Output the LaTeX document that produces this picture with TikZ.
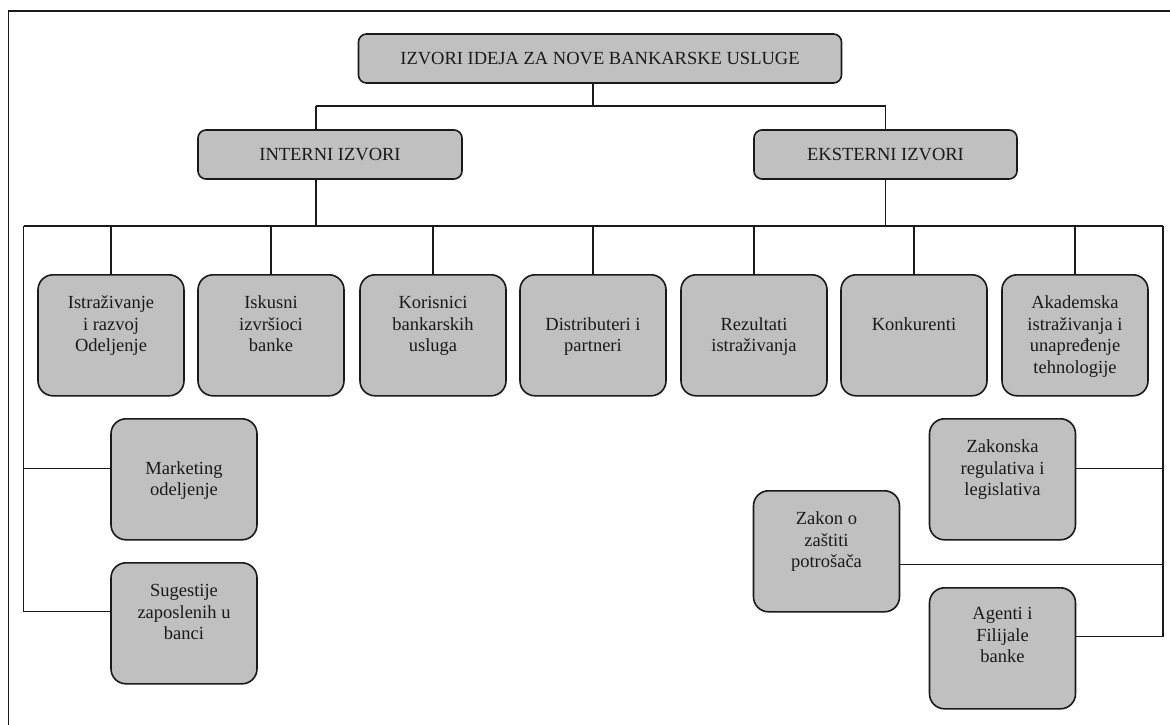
\documentclass[tikz,border=0pt]{standalone}
\usepackage{fontspec}
\setmainfont{Liberation Serif}
\definecolor{boxgray}{HTML}{C0C0C0}
\definecolor{ink}{HTML}{1A1A1A}
\tikzset{
  conn/.style={line width=1.4pt, draw=ink},
  headbox/.style={draw=ink, fill=boxgray, line width=1.6pt, rounded corners=8pt, inner sep=0pt,
    font=\fontsize{18.5}{21.5}\selectfont, text=ink},
  leafbox/.style={draw=ink, fill=boxgray, line width=1.6pt, rounded corners=15pt, inner sep=0pt,
    anchor=north, font=\fontsize{18.5}{21.5}\selectfont, text=ink},
}
\newcommand\leaftext[2]{\parbox[c][121pt][t]{146pt}{\centering\vspace*{#1}\strut #2}}
\begin{document}
\begin{tikzpicture}[x=1pt,y=-1pt]
\useasboundingbox (0,0) rectangle (1170,724);
\clip (0,0) rectangle (1170,724);
\fill[white] (0,0) rectangle (1170,724);
% outer frame
\draw[line width=1.8pt, ink] (8.4,740) |- (1190,11);
% header nodes
\node[headbox, minimum width=483pt, minimum height=49pt] (top) at (600,58.5) {IZVORI IDEJA ZA NOVE BANKARSKE USLUGE};
\node[headbox, minimum width=264pt, minimum height=49pt] (intr) at (330,154.5) {INTERNI IZVORI};
\node[headbox, minimum width=263pt, minimum height=49pt] (ext) at (885.5,154.5) {EKSTERNI IZVORI};
% row of leaves
\node[leafbox] (b1) at (111,274) {\leaftext{19pt}{Istraživanje\\ i razvoj\\ Odeljenje}};
\node[leafbox] (b2) at (271,274) {\leaftext{19pt}{Iskusni\\ izvršioci\\ banke}};
\node[leafbox] (b3) at (433,274) {\leaftext{19pt}{Korisnici\\ bankarskih\\ usluga}};
\node[leafbox] (b4) at (593,274) {\leaftext{40.5pt}{Distributeri i\\ partneri}};
\node[leafbox] (b5) at (754,274) {\leaftext{40.5pt}{Rezultati\\ istraživanja}};
\node[leafbox] (b6) at (914,274) {\leaftext{40.5pt}{Konkurenti}};
\node[leafbox] (b7) at (1075,274) {\leaftext{19pt}{Akademska\\ istraživanja i\\ unapređenje\\ tehnologije}};
% lower leaves
\node[leafbox] (mkt) at (184,418) {\leaftext{40.5pt}{Marketing\\ odeljenje}};
\node[leafbox] (sug) at (184,562) {\leaftext{19pt}{Sugestije\\ zaposlenih u\\ banci}};
\node[leafbox] (zak) at (1002.5,418) {\leaftext{19pt}{Zakonska\\ regulativa i\\ legislativa}};
\node[leafbox] (zoz) at (826.5,490) {\leaftext{19pt}{Zakon o\\ zaštiti\\ potrošača}};
\node[leafbox] (agt) at (1002.5,587) {\leaftext{17pt}{Agenti i\\ Filijale\\ banke}};
% connectors
\coordinate (splitL) at (316,106);
\coordinate (splitR) at (885.5,106);
\coordinate (busL) at (23.7,226);
\coordinate (busR) at (1163,226);
\draw[conn] ([xshift=-7pt]top.south) -- ([xshift=-7pt]top.south |- splitL);
\draw[conn] (splitL) -- (splitR);
\draw[conn] (splitL) -- ([xshift=-14pt]intr.north);
\draw[conn] (splitR) -- (ext.north);
\draw[conn] ([xshift=-14pt]intr.south) -- ([xshift=-14pt]intr.south |- busL);
\draw[conn] (ext.south) -- (ext.south |- busL);
\draw[conn] (busL) -- (busR);
\foreach \b in {b1,b2,b3,b4,b5,b6,b7} \draw[conn] (\b.north) -- (\b.north |- busL);
\draw[conn] (busL) |- ([yshift=12pt]sug.west);
\draw[conn] ([yshift=11pt]mkt.west) -- ([yshift=11pt]mkt.west -| busL);
\draw[conn] (busR) |- ([yshift=12pt]agt.east);
\draw[conn] ([yshift=11pt]zak.east) -- ([yshift=11pt]zak.east -| busR);
\draw[conn] ([yshift=-13pt]zoz.east) -- ([yshift=-13pt]zoz.east -| busR);
\end{tikzpicture}
\end{document}
